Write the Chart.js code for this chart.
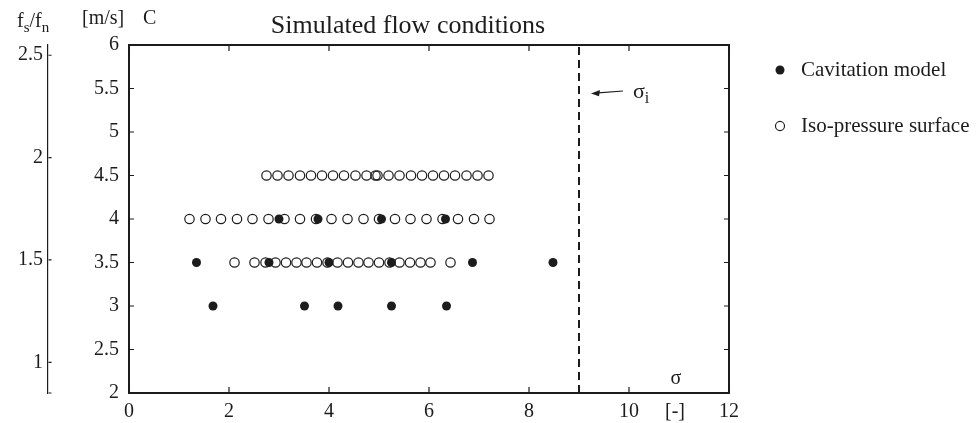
<!DOCTYPE html>
<html>
<head>
<meta charset="utf-8">
<title>Simulated flow conditions</title>
<script src="https://cdn.jsdelivr.net/npm/chart.js@4.4.1/dist/chart.umd.min.js"></script>
<style>
  html, body { margin: 0; padding: 0; background: #fff; }
  canvas { display: block; }
</style>
</head>
<body>
<canvas id="flow-conditions" width="976" height="423"></canvas>
<script>
const INK = "#1c1c1c";
const SERIF = "'Liberation Serif', 'Times New Roman', serif";

// flow speed levels C [m/s]
const cavitationSpeeds = [3, 3.5, 4];
const isoSpeeds = [3.5, 4, 4.5];

// cavitation number of each simulated point, one array per speed level
const cavitationSigma30 = [1.68, 3.51, 4.18, 5.25, 6.35];
const cavitationSigma35 = [1.35, 2.8, 4.0, 5.25, 6.87, 8.48];
const cavitationSigma40 = [3.0, 3.78, 5.05, 6.33];

const isoSigma35 = [2.11, 2.51, 2.73, 2.93, 3.14, 3.35, 3.55, 3.76, 3.97, 4.17,
  4.38, 4.59, 4.79, 5.0, 5.21, 5.41, 5.62, 5.83, 6.03, 6.43];
const isoSigma40 = [1.21, 1.53, 1.84, 2.16, 2.47, 2.79, 3.11, 3.42, 3.74, 4.05,
  4.37, 4.69, 5.0, 5.32, 5.63, 5.95, 6.27, 6.58, 6.9, 7.21];
const isoSigma45 = [2.75, 2.97, 3.19, 3.42, 3.64, 3.86, 4.08, 4.3, 4.53, 4.75,
  4.93, 4.97, 5.19, 5.41, 5.64, 5.86, 6.08, 6.3, 6.52, 6.75, 6.97, 7.19];

// incipient cavitation number
const sigmaIncipient = 9;

// axis ranges and the labelled f_s/f_n ticks
const sigmaRange = [0, 12];
const speedRange = [2, 6];
const freqRatioRange = [0.85, 2.55];
const freqRatioTicks = [1, 1.5, 2, 2.5];

function toPoints(sigmas, speed) {
  return sigmas.map((s) => ({ x: s, y: speed }));
}

const cavitationPoints = [
  ...toPoints(cavitationSigma30, cavitationSpeeds[0]),
  ...toPoints(cavitationSigma35, cavitationSpeeds[1]),
  ...toPoints(cavitationSigma40, cavitationSpeeds[2]),
];
const isoPoints = [
  ...toPoints(isoSigma35, isoSpeeds[0]),
  ...toPoints(isoSigma40, isoSpeeds[1]),
  ...toPoints(isoSigma45, isoSpeeds[2]),
];

function plainLabel(value) {
  return String(value);
}

// small tick marks pointing into the plot box (and right of the f_s/f_n axis)
const inwardTicks = {
  id: "inwardTicks",
  afterDraw(chart) {
    const { ctx, chartArea: a, scales } = chart;
    const len = 6;
    ctx.save();
    ctx.strokeStyle = INK;
    ctx.lineWidth = 1.2;
    ctx.beginPath();
    scales.x.ticks.forEach((t) => {
      const px = scales.x.getPixelForValue(t.value);
      ctx.moveTo(px, a.bottom);
      ctx.lineTo(px, a.bottom - len);
    });
    scales.xTop.ticks.forEach((t) => {
      const px = scales.xTop.getPixelForValue(t.value);
      ctx.moveTo(px, a.top);
      ctx.lineTo(px, a.top + len);
    });
    scales.y.ticks.forEach((t) => {
      const py = scales.y.getPixelForValue(t.value);
      ctx.moveTo(a.left, py);
      ctx.lineTo(a.left + len - 1, py);
    });
    scales.yRight.ticks.forEach((t) => {
      const py = scales.yRight.getPixelForValue(t.value);
      ctx.moveTo(a.right, py);
      ctx.lineTo(a.right - len + 1, py);
    });
    const f = scales.freq;
    const fx = Math.round(f.right) + 0.5;
    f.ticks.forEach((t) => {
      const py = f.getPixelForValue(t.value);
      ctx.moveTo(fx, py);
      ctx.lineTo(fx + 3, py);
    });
    ctx.moveTo(fx, f.bottom);
    ctx.lineTo(fx + 3, f.bottom);
    ctx.stroke();
    ctx.restore();
  },
};

function drawRich(ctx, x, y, parts, size, subSize) {
  let cx = x;
  parts.forEach(([text, sub]) => {
    ctx.font = `${sub ? subSize : size}px ${SERIF}`;
    ctx.fillText(text, cx, sub ? y + 5 : y);
    cx += ctx.measureText(text).width;
  });
}

// title, axis units and the sigma_i marker
const figureText = {
  id: "figureText",
  afterDraw(chart) {
    const { ctx, scales } = chart;
    ctx.save();
    ctx.fillStyle = INK;
    ctx.textBaseline = "alphabetic";

    ctx.textAlign = "center";
    ctx.font = `26px ${SERIF}`;
    ctx.fillText("Simulated flow conditions", 408, 33);

    ctx.font = `20px ${SERIF}`;
    ctx.fillText("σ", 676, 384);
    ctx.fillText("[-]", 675, 417);

    ctx.textAlign = "left";
    ctx.fillText("[m/s]", 82, 24);
    ctx.fillText("C", 143, 24);
    drawRich(ctx, 17, 27, [["f", false], ["s", true], ["/f", false], ["n", true]], 20, 15);

    const lineX = scales.x.getPixelForValue(sigmaIncipient);
    drawRich(ctx, lineX + 54, 98, [["σ", false], ["i", true]], 22, 16);

    // arrow pointing at the dashed line
    const tipX = lineX + 12;
    const tipY = 93.5;
    ctx.strokeStyle = INK;
    ctx.lineWidth = 1.2;
    ctx.beginPath();
    ctx.moveTo(lineX + 44, 91);
    ctx.lineTo(tipX + 4, tipY - 0.3);
    ctx.stroke();
    ctx.beginPath();
    ctx.moveTo(tipX, tipY);
    ctx.lineTo(tipX + 9, tipY - 3.6);
    ctx.lineTo(tipX + 8, tipY + 2.8);
    ctx.closePath();
    ctx.fill();
    ctx.restore();
  },
};

// fixed legend width so the plot box keeps its place
const legendWidth = {
  id: "legendWidth",
  beforeInit(chart) {
    const fit = chart.legend.fit;
    chart.legend.fit = function () {
      fit.call(chart.legend);
      this.width = 241.5;
    };
  },
};

const tickFont = { family: SERIF, size: 20 };

new Chart(document.getElementById("flow-conditions"), {
  type: "scatter",
  data: {
    datasets: [
      {
        label: "Cavitation model",
        data: cavitationPoints,
        pointStyle: "circle",
        pointRadius: 4.5,
        backgroundColor: INK,
        borderColor: INK,
        borderWidth: 0,
      },
      {
        label: "Iso-pressure surface",
        data: isoPoints,
        pointStyle: "circle",
        pointRadius: 4.7,
        backgroundColor: "rgba(0,0,0,0)",
        borderColor: INK,
        borderWidth: 1.2,
      },
      {
        label: "sigma_i",
        data: [
          { x: sigmaIncipient, y: speedRange[0] },
          { x: sigmaIncipient, y: speedRange[1] },
        ],
        showLine: true,
        pointRadius: 0,
        borderColor: INK,
        borderWidth: 2,
        borderDash: [8, 5],
      },
    ],
  },
  options: {
    responsive: false,
    animation: false,
    layout: { padding: 0 },
    plugins: {
      tooltip: { enabled: false },
      legend: {
        position: "right",
        align: "start",
        title: { display: true, text: "", font: { size: 10 }, padding: { top: 12.5, bottom: 0 } },
        labels: {
          filter: (item) => item.datasetIndex < 2,
          usePointStyle: true,
          boxHeight: 6.4,
          padding: 35,
          color: INK,
          font: { family: SERIF, size: 21 },
        },
      },
    },
    scales: {
      x: {
        type: "linear",
        position: "bottom",
        min: sigmaRange[0],
        max: sigmaRange[1],
        afterFit: (s) => { s.height = 30; },
        ticks: { stepSize: 2, padding: 7, color: INK, font: tickFont, callback: plainLabel, maxRotation: 0 },
        grid: { drawOnChartArea: false, drawTicks: false },
        border: { color: INK, width: 2 },
      },
      xTop: {
        type: "linear",
        position: "top",
        min: sigmaRange[0],
        max: sigmaRange[1],
        afterFit: (s) => { s.height = 45; },
        ticks: { stepSize: 2, display: false },
        grid: { drawOnChartArea: false, drawTicks: false },
        border: { color: INK, width: 2 },
      },
      y: {
        type: "linear",
        position: "left",
        weight: 0,
        min: speedRange[0],
        max: speedRange[1],
        afterFit: (s) => { s.width = 81; },
        ticks: { stepSize: 0.5, padding: 10, color: INK, font: tickFont, callback: plainLabel },
        grid: { drawOnChartArea: false, drawTicks: false },
        border: { color: INK, width: 2 },
      },
      yRight: {
        type: "linear",
        position: "right",
        min: speedRange[0],
        max: speedRange[1],
        afterFit: (s) => { s.width = 5.5; },
        ticks: { stepSize: 0.5, display: false },
        grid: { drawOnChartArea: false, drawTicks: false },
        border: { color: INK, width: 2 },
      },
      freq: {
        type: "linear",
        position: "left",
        weight: 1,
        min: freqRatioRange[0],
        max: freqRatioRange[1],
        afterFit: (s) => { s.width = 48; },
        afterBuildTicks: (s) => {
          s.ticks = freqRatioTicks.map((v) => ({ value: v }));
        },
        ticks: { padding: 5, color: INK, font: tickFont, callback: plainLabel },
        grid: { drawOnChartArea: false, drawTicks: false },
        border: { color: INK, width: 1.2 },
      },
    },
  },
  plugins: [legendWidth, inwardTicks, figureText],
});
</script>
</body>
</html>
